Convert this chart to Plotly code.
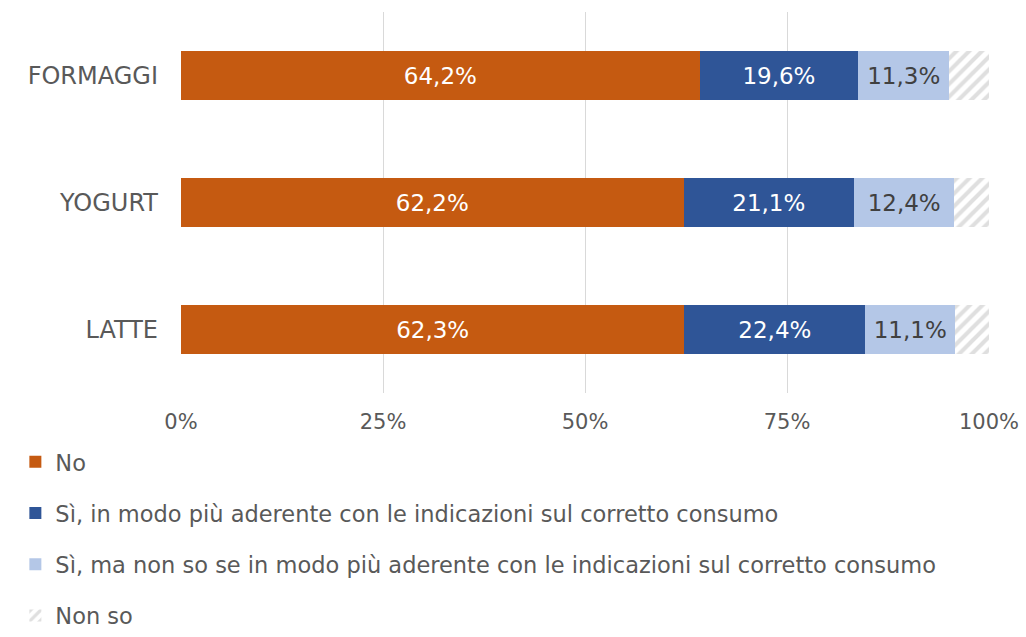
import plotly.graph_objects as go

categories = ["LATTE", "YOGURT", "FORMAGGI"]
series_names = [
    "No",
    "Sì, in modo più aderente con le indicazioni sul corretto consumo",
    "Sì, ma non so se in modo più aderente con le indicazioni sul corretto consumo",
    "Non so",
]
no_vals = [62.3, 62.2, 64.2]
si_aderente_vals = [22.4, 21.1, 19.6]
si_non_so_vals = [11.1, 12.4, 11.3]
non_so_vals = [4.2, 4.3, 4.9]

colors = ["#C55A11", "#2F5597", "#B4C7E7", "#BFBFBF"]
font_family = "'DejaVu Sans', sans-serif"

def fmt(v):
    return f"{v:.1f}%".replace(".", ",")

fig = go.Figure()
series = [no_vals, si_aderente_vals, si_non_so_vals, non_so_vals]
label_colors = ["white", "white", "#404040", None]

for i, (name, vals) in enumerate(zip(series_names, series)):
    kw = {}
    if i == 3:
        kw["marker"] = dict(
            color="white",
            pattern=dict(shape="/", fgcolor=colors[3], bgcolor="white",
                         size=9, solidity=0.45),
            line=dict(width=0),
        )
    else:
        kw["marker"] = dict(color=colors[i], line=dict(width=0))
        kw["text"] = [fmt(v) for v in vals]
        kw["textposition"] = "inside"
        kw["insidetextanchor"] = "middle"
        kw["textfont"] = dict(color=label_colors[i], size=23, family=font_family)
    fig.add_trace(go.Bar(
        y=categories, x=vals, name=name, orientation="h",
        legendgroup=f"g{i}", hoverinfo="skip", **kw,
    ))

fig.update_layout(
    barmode="stack",
    bargap=0.61,
    width=1026, height=637,
    margin=dict(l=181, r=37, t=12, b=244, autoexpand=False),
    paper_bgcolor="white", plot_bgcolor="white",
    font=dict(family=font_family, color="#595959"),
    uniformtext=dict(minsize=10, mode="show"),
    legend=dict(
        x=-0.205, y=-0.125, xanchor="left", yanchor="top",
        orientation="v", traceorder="grouped",
        font=dict(size=22.5, color="#595959", family=font_family),
        tracegroupgap=19, itemwidth=30, bgcolor="rgba(0,0,0,0)",
    ),
    xaxis=dict(
        range=[0, 100], tickvals=[0, 25, 50, 75, 100],
        ticktext=["0%", "25%", "50%", "75%", "100%"],
        showgrid=True, gridcolor="#D9D9D9", gridwidth=1,
        zeroline=False, showline=False, ticks="",
        tickfont=dict(size=21, color="#595959"), ticklabelstandoff=14,
    ),
    yaxis=dict(
        showgrid=False, showline=False, ticks="", zeroline=False,
        tickfont=dict(size=24, color="#595959"), ticklabelstandoff=22,
    ),
)

fig.write_html("out.html")
